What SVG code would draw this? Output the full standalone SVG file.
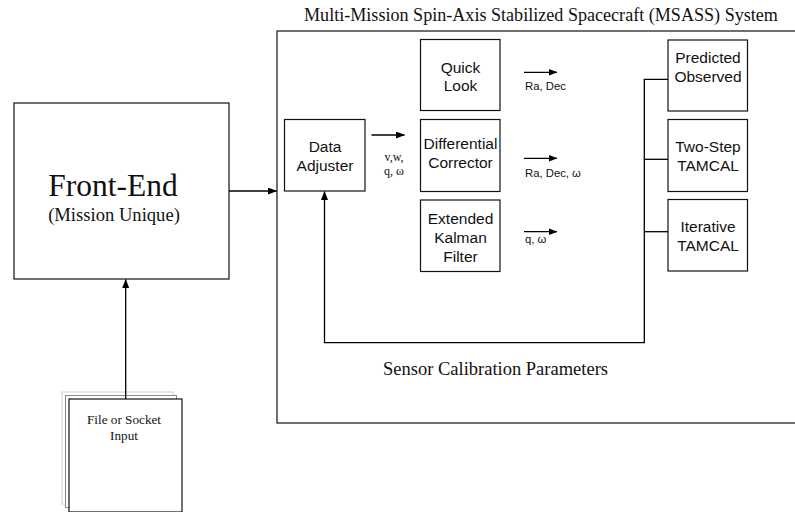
<svg xmlns="http://www.w3.org/2000/svg" width="795" height="512" viewBox="0 0 795 512">
<defs>
<marker id="ah" markerWidth="9" markerHeight="7" refX="8.5" refY="3.5" orient="auto" markerUnits="userSpaceOnUse">
<path d="M0,0 L9,3.5 L0,7 Z" fill="#000"/>
</marker>
</defs>
<style>
.box{fill:#fff;stroke:#111;stroke-width:1.2}
.ln{fill:none;stroke:#000;stroke-width:1.3}
.s{font-family:"Liberation Sans",Arial,sans-serif;font-size:15.5px;fill:#111;text-anchor:middle}
.lbl{font-family:"Liberation Sans",Arial,sans-serif;font-size:11.3px;fill:#111}
.t{font-family:"Liberation Serif","Times New Roman",serif;fill:#111}
</style>
<rect width="795" height="512" fill="#fff"/>

<g id="msass">
<rect class="box" x="277" y="31" width="530" height="392"/>
<text class="t" x="304" y="20.5" font-size="18.1">Multi-Mission Spin-Axis Stabilized Spacecraft (MSASS) System</text>
<text class="t" x="495.5" y="375" font-size="18.5" text-anchor="middle">Sensor Calibration Parameters</text>
</g>

<g id="front-end">
<rect class="box" x="14" y="103" width="215" height="176"/>
<text class="t" x="113" y="196" font-size="31.5" text-anchor="middle">Front-End</text>
<text class="t" x="114" y="221" font-size="18.6" text-anchor="middle">(Mission Unique)</text>
</g>

<g id="file-input">
<rect x="62" y="392" width="111" height="112" fill="#fff" stroke="#d0d0d0" stroke-width="1"/>
<rect x="65.5" y="395.5" width="111" height="112" fill="#fff" stroke="#888" stroke-width="1"/>
<rect class="box" x="69" y="399" width="113" height="113"/>
<text class="t" x="124" y="424" font-size="13.2" text-anchor="middle">File or Socket</text>
<text class="t" x="124" y="440" font-size="13.2" text-anchor="middle">Input</text>
</g>

<g id="data-adjuster">
<rect class="box" x="284.5" y="119.5" width="80.5" height="71.5"/>
<text class="s" x="325" y="152">Data</text>
<text class="s" x="325" y="171">Adjuster</text>
</g>

<g id="quick-look">
<rect class="box" x="420.5" y="39.5" width="79.5" height="71"/>
<text class="s" x="460.5" y="72.5">Quick</text>
<text class="s" x="460.5" y="91">Look</text>
</g>

<g id="differential-corrector">
<rect class="box" x="420.5" y="119.5" width="79.5" height="72"/>
<text class="s" x="460.5" y="149">Differential</text>
<text class="s" x="460.5" y="167.5">Corrector</text>
</g>

<g id="extended-kalman-filter">
<rect class="box" x="420.5" y="200" width="79.5" height="71.5"/>
<text class="s" x="460.5" y="224">Extended</text>
<text class="s" x="460.5" y="242.5">Kalman</text>
<text class="s" x="460.5" y="261.5">Filter</text>
</g>

<g id="predicted-observed">
<rect class="box" x="668" y="40" width="79.5" height="71"/>
<text class="s" x="708" y="62.5">Predicted</text>
<text class="s" x="708" y="81.5">Observed</text>
</g>

<g id="two-step-tamcal">
<rect class="box" x="668" y="119.5" width="79.5" height="72"/>
<text class="s" x="708" y="151.5">Two-Step</text>
<text class="s" x="708" y="170.5">TAMCAL</text>
</g>

<g id="iterative-tamcal">
<rect class="box" x="668" y="199.5" width="79.5" height="71.5"/>
<text class="s" x="708" y="231.5">Iterative</text>
<text class="s" x="708" y="250.5">TAMCAL</text>
</g>

<g id="connectors">
<line class="ln" x1="125.7" y1="399" x2="125.7" y2="279.5" marker-end="url(#ah)"/>
<line class="ln" x1="229" y1="191" x2="276.5" y2="191" marker-end="url(#ah)"/>
<line class="ln" x1="371.5" y1="135" x2="404.5" y2="135" marker-end="url(#ah)"/>
<line class="ln" x1="524" y1="72.3" x2="557" y2="72.3" marker-end="url(#ah)"/>
<line class="ln" x1="524" y1="158.3" x2="557" y2="158.3" marker-end="url(#ah)"/>
<line class="ln" x1="524" y1="231.7" x2="557" y2="231.7" marker-end="url(#ah)"/>
<path class="ln" d="M668,79.3 H644.3 V342.7 H324.5 V191.5" marker-end="url(#ah)"/>
<line class="ln" x1="644.3" y1="159.3" x2="668" y2="159.3"/>
<line class="ln" x1="644.3" y1="231.7" x2="668" y2="231.7"/>
<text class="t" x="394" y="161" font-size="12" text-anchor="middle">v,w,</text>
<text class="t" x="394" y="175" font-size="12" text-anchor="middle">q, ω</text>
<text class="lbl" x="525" y="90">Ra, Dec</text>
<text class="lbl" x="525" y="176.7">Ra, Dec, ω</text>
<text class="lbl" x="525" y="243">q, ω</text>
</g>
</svg>
